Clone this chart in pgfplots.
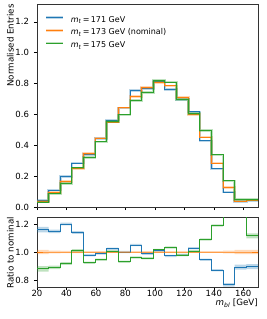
\documentclass[border=0pt]{standalone}
\usepackage{fontspec}
\setmainfont{DejaVu Sans}
\usepackage{pgfplots}
\pgfplotsset{compat=1.18}
\usepackage{pgfplotstable}
\usepgfplotslibrary{fillbetween}

\definecolor{cblue}{HTML}{1F77B4}
\definecolor{corange}{HTML}{FF7F0E}
\definecolor{cgreen}{HTML}{2CA02C}

% x = left bin edge, y = normalised entries, r = ratio to nominal, e = ratio uncertainty
\pgfplotstableread{
x y r e
20.000 0.042 1.160 0.020
27.895 0.109 1.147 0.012
35.789 0.199 1.200 0.010
43.684 0.285 1.140 0.010
51.579 0.340 0.976 0.008
59.474 0.443 0.990 0.008
67.368 0.563 1.024 0.008
75.263 0.642 1.000 0.008
83.158 0.753 1.050 0.008
91.053 0.767 0.988 0.008
98.947 0.816 1.010 0.008
106.842 0.763 0.972 0.008
114.737 0.695 0.978 0.008
122.632 0.616 1.027 0.008
130.526 0.428 0.945 0.008
138.421 0.247 0.870 0.008
146.316 0.096 0.765 0.012
154.211 0.035 0.892 0.018
162.105 0.040 0.896 0.018
170.000 0.040 0.896 0.018
}\tblue
\pgfplotstableread{
x y r e
20.000 0.036 1.000 0.015
27.895 0.095 1.000 0.010
35.789 0.166 1.000 0.008
43.684 0.250 1.000 0.008
51.579 0.348 1.000 0.007
59.474 0.447 1.000 0.007
67.368 0.550 1.000 0.007
75.263 0.642 1.000 0.007
83.158 0.717 1.000 0.007
91.053 0.776 1.000 0.007
98.947 0.808 1.000 0.007
106.842 0.785 1.000 0.007
114.737 0.711 1.000 0.007
122.632 0.600 1.000 0.007
130.526 0.453 1.000 0.007
138.421 0.284 1.000 0.007
146.316 0.126 1.000 0.010
154.211 0.039 1.000 0.015
162.105 0.045 1.000 0.015
170.000 0.045 1.000 0.015
}\torange
\pgfplotstableread{
x y r e
20.000 0.032 0.880 0.020
27.895 0.085 0.890 0.012
35.789 0.152 0.918 0.010
43.684 0.253 1.010 0.010
51.579 0.321 0.923 0.008
59.474 0.422 0.945 0.008
67.368 0.553 1.005 0.008
75.263 0.597 0.930 0.008
83.158 0.688 0.960 0.008
91.053 0.741 0.955 0.008
98.947 0.820 1.015 0.008
106.842 0.810 1.032 0.008
114.737 0.695 0.978 0.008
122.632 0.604 1.006 0.008
130.526 0.494 1.090 0.008
138.421 0.338 1.190 0.008
146.316 0.169 1.340 0.012
154.211 0.050 1.280 0.018
162.105 0.050 1.115 0.018
170.000 0.050 1.115 0.018
}\tgreen

\pgfplotsset{
  every axis/.append style={
    scale only axis, width=221pt,
    xmin=20, xmax=170,
    xtick={20,40,...,160},
    tick align=outside, tick pos=left,
    major tick length=3pt,
    every tick/.style={line width=0.5pt, black},
    axis line style={line width=0.6pt, black!80},
    ticklabel style={font=\fontsize{8.5}{10}\selectfont},
    label style={font=\fontsize{8.7}{10}\selectfont},
    /pgf/number format/assume math mode=true,
    yticklabel style={xshift=-1.5pt, /pgf/number format/.cd, fixed, fixed zerofill, precision=1},
    xticklabel style={yshift=3.5pt},
  },
}

\begin{document}
\begin{tikzpicture}
\begin{axis}[
  name=top, at={(0,0)}, anchor=north west,
  height=203pt,
  ymin=0, ymax=1.315,
  ytick={0,0.2,0.4,0.6,0.8,1.0,1.2},
  xticklabels={},
  ylabel={Normalised Entries},
  ylabel style={at={([xshift=-23pt]rel axis cs:0,1)}, anchor=south east, inner sep=0pt},
  legend style={at={(0,1)}, anchor=north west, xshift=8pt, yshift=-12pt,
    draw=none, fill=none, inner sep=0pt, row sep=5pt,
    font=\fontsize{8}{9}\selectfont,
    nodes={inner sep=0pt, text height=6pt, text depth=1.7pt}},
  legend cell align=left,
  legend image code/.code={
    \draw[#1, line width=2.6pt, opacity=0.3] (0pt,2.5pt) -- (17pt,2.5pt);
    \draw[#1] (0pt,2.5pt) -- (17pt,2.5pt);
    \path (24pt,2.5pt);
  },
]
\addplot[cblue, line width=2.6pt, opacity=0.3, const plot, forget plot] table[x=x, y=y]{\tblue};
\addplot[cblue, line width=0.9pt, const plot] table[x=x, y=y]{\tblue};
\addplot[corange, line width=2.6pt, opacity=0.3, const plot, forget plot] table[x=x, y=y]{\torange};
\addplot[corange, line width=0.9pt, const plot] table[x=x, y=y]{\torange};
\addplot[cgreen, line width=2.6pt, opacity=0.3, const plot, forget plot] table[x=x, y=y]{\tgreen};
\addplot[cgreen, line width=0.9pt, const plot] table[x=x, y=y]{\tgreen};
\legend{\textit{m}\textsubscript{\textit{t}}\kern1.2pt=\kern1.2pt171 GeV,
        \textit{m}\textsubscript{\textit{t}}\kern1.2pt=\kern1.2pt173 GeV (nominal),
        \textit{m}\textsubscript{\textit{t}}\kern1.2pt=\kern1.2pt175 GeV}
\end{axis}

\begin{axis}[
  name=bot, at={(0,-213pt)}, anchor=north west,
  height=70pt,
  ymin=0.75, ymax=1.25,
  ytick={0.8,1.0,1.2},
  xlabel={\textit{m}\textsubscript{\textit{bl}} [GeV]},
  xlabel style={at={(rel axis cs:1,0)}, anchor=north east, inner sep=0pt, yshift=-12pt},
  ylabel={Ratio to nominal},
  ylabel style={at={([xshift=-23pt]rel axis cs:0,1)}, anchor=south east, inner sep=0pt},
]
\addplot[name path=bu, draw=none, const plot, forget plot] table[x=x, y expr=\thisrow{r}+\thisrow{e}]{\tblue};
\addplot[name path=bl, draw=none, const plot, forget plot] table[x=x, y expr=\thisrow{r}-\thisrow{e}]{\tblue};
\addplot[cblue, opacity=0.3, forget plot] fill between[of=bu and bl];
\addplot[cblue, line width=0.9pt, const plot] table[x=x, y=r]{\tblue};
\addplot[name path=ou, draw=none, const plot, forget plot] table[x=x, y expr=\thisrow{r}+\thisrow{e}]{\torange};
\addplot[name path=ol, draw=none, const plot, forget plot] table[x=x, y expr=\thisrow{r}-\thisrow{e}]{\torange};
\addplot[corange, opacity=0.3, forget plot] fill between[of=ou and ol];
\addplot[corange, line width=0.9pt, const plot] table[x=x, y=r]{\torange};
\addplot[name path=gu, draw=none, const plot, forget plot] table[x=x, y expr=\thisrow{r}+\thisrow{e}]{\tgreen};
\addplot[name path=gl, draw=none, const plot, forget plot] table[x=x, y expr=\thisrow{r}-\thisrow{e}]{\tgreen};
\addplot[cgreen, opacity=0.3, forget plot] fill between[of=gu and gl];
\addplot[cgreen, line width=0.9pt, const plot] table[x=x, y=r]{\tgreen};
\end{axis}
\pgfresetboundingbox
\useasboundingbox (-37pt,-315pt) rectangle (229pt,4pt);
\end{tikzpicture}
\end{document}
